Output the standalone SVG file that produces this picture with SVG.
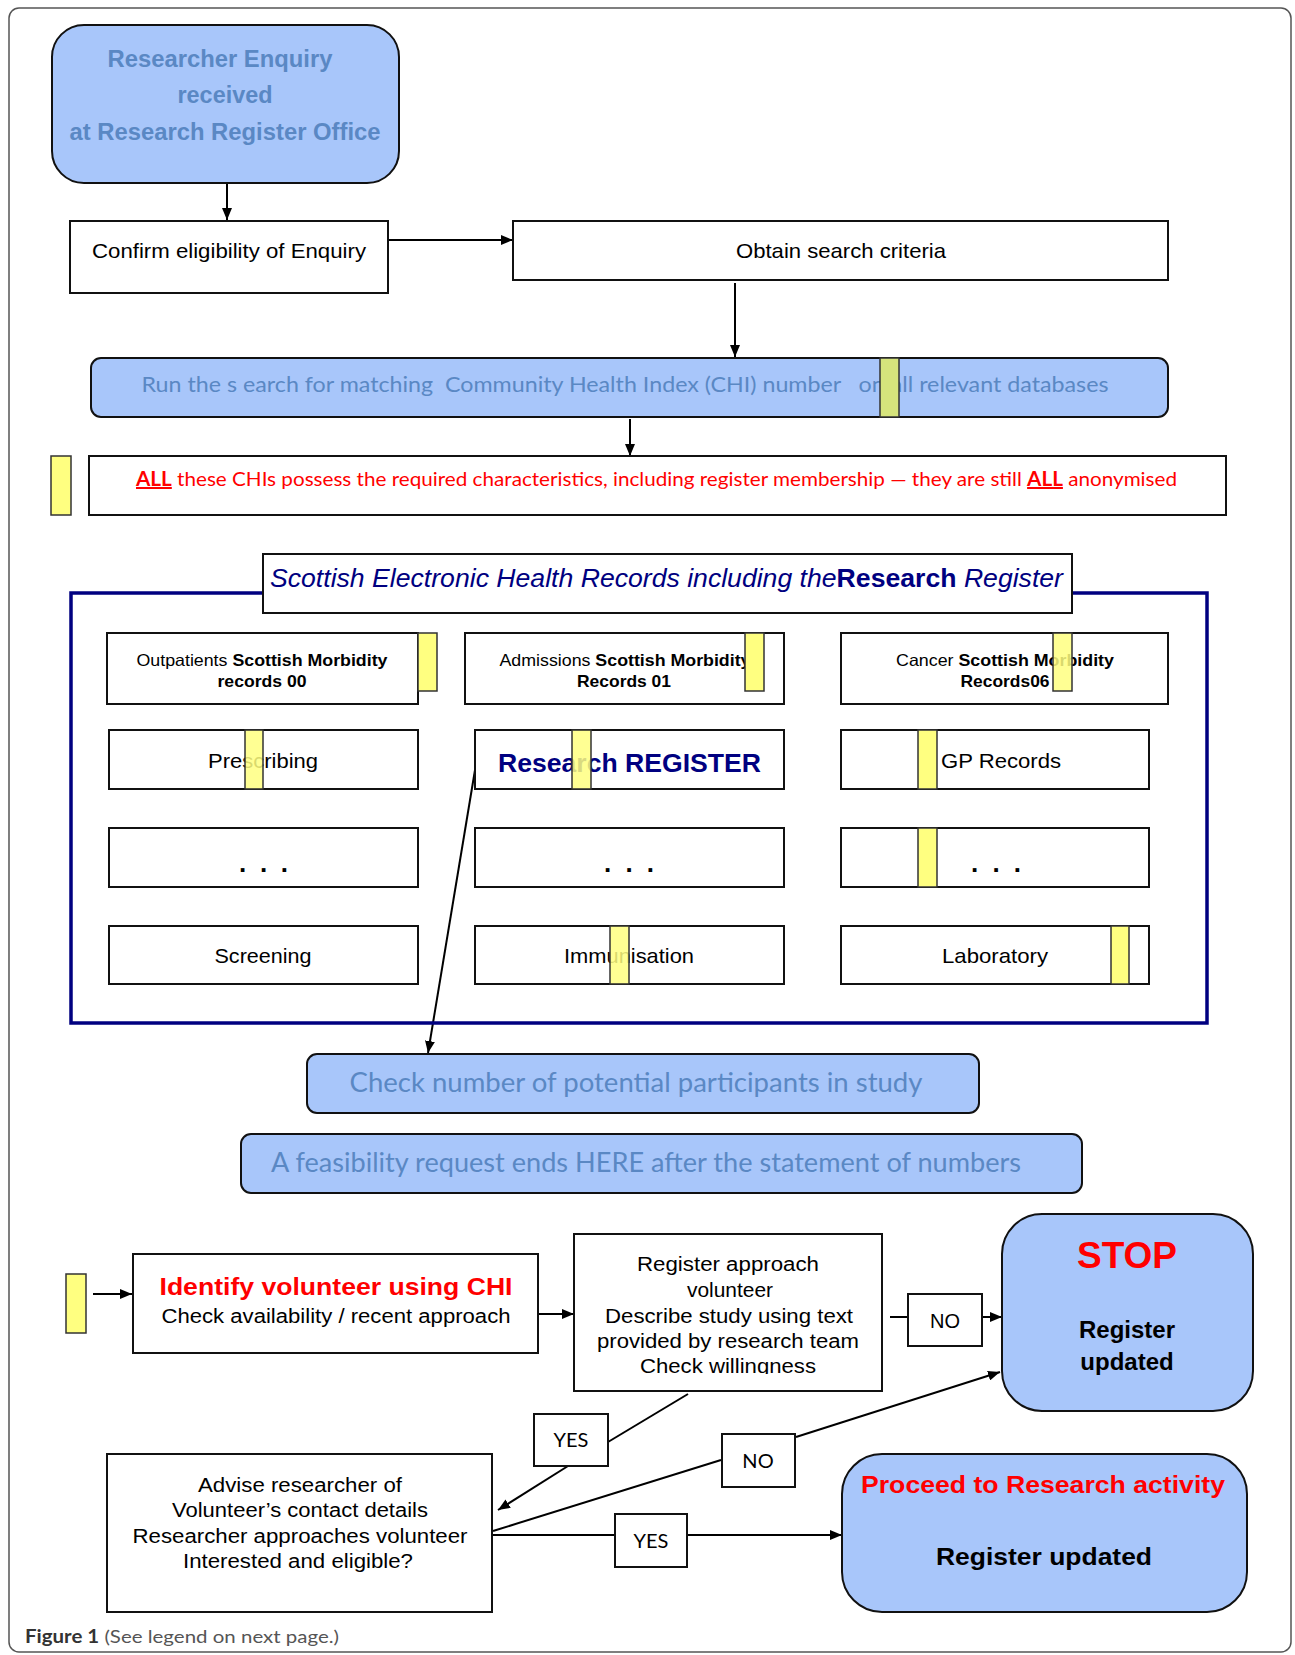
<svg xmlns="http://www.w3.org/2000/svg" width="1295" height="1655" viewBox="0 0 1295 1655">
<style>
.box{fill:#fff;stroke:#111;stroke-width:2}
.blue{fill:#a8c6fa;stroke:#111;stroke-width:2}
.yel{fill:#ffff80;stroke:#333;stroke-width:1.5}
.a{font-family:"Liberation Sans",Arial,sans-serif;fill:#000}
.c{font-family:Lato,"Open Sans",sans-serif}
.bt{fill:#5a88c4}
.b{font-weight:bold}
.navy{fill:#000080}
.red{fill:#ff0000}
.con{stroke:#000;stroke-width:2;fill:none}
.pre{white-space:pre}
</style>
<defs>
<marker id="ah" markerWidth="12" markerHeight="10" refX="12" refY="5" orient="auto" markerUnits="userSpaceOnUse">
<path d="M0,0 L12,5 L0,10 Z" fill="#000"/>
</marker>
<clipPath id="clipReg"><rect x="574" y="1234" width="308" height="140"/></clipPath>
</defs>
<rect x="9" y="8" width="1282" height="1644" rx="10" fill="#fff" stroke="#555" stroke-width="1.5"/>

<g id="connectors">
<line class="con" x1="227" y1="183" x2="227" y2="220" marker-end="url(#ah)"/>
<line class="con" x1="379" y1="240" x2="513" y2="240" marker-end="url(#ah)"/>
<line class="con" x1="735" y1="283" x2="735" y2="357" marker-end="url(#ah)"/>
<line class="con" x1="630" y1="419" x2="630" y2="456" marker-end="url(#ah)"/>
<line class="con" x1="475" y1="770" x2="428" y2="1053" marker-end="url(#ah)"/>
<line class="con" x1="93" y1="1294" x2="132" y2="1294" marker-end="url(#ah)"/>
<line class="con" x1="538" y1="1314" x2="574" y2="1314" marker-end="url(#ah)"/>
<line class="con" x1="890" y1="1317" x2="908" y2="1317"/>
<line class="con" x1="982" y1="1317" x2="1002" y2="1317" marker-end="url(#ah)"/>
<line class="con" x1="688" y1="1394" x2="608" y2="1442"/>
<line class="con" x1="568" y1="1466" x2="498" y2="1510" marker-end="url(#ah)"/>
<line class="con" x1="493" y1="1531" x2="721" y2="1460"/>
<line class="con" x1="796" y1="1437" x2="1000" y2="1372" marker-end="url(#ah)"/>
<line class="con" x1="493" y1="1535" x2="615" y2="1535"/>
<line class="con" x1="687" y1="1535" x2="842" y2="1535" marker-end="url(#ah)"/>
</g>

<g id="n-enquiry">
<rect class="blue" x="52" y="25" width="347" height="158" rx="32"/>
<text class="a b bt" font-size="23" text-anchor="middle" x="220" y="67" textLength="225" lengthAdjust="spacingAndGlyphs">Researcher Enquiry</text>
<text class="a b bt" font-size="23" text-anchor="middle" x="225" y="103" textLength="95" lengthAdjust="spacingAndGlyphs">received</text>
<text class="a b bt" font-size="23" text-anchor="middle" x="225" y="140" textLength="311" lengthAdjust="spacingAndGlyphs">at Research Register Office</text>
</g>

<g id="n-confirm">
<rect class="box" x="70" y="221" width="318" height="72"/>
<text class="a" font-size="21" text-anchor="middle" x="229" y="258" textLength="274" lengthAdjust="spacingAndGlyphs">Confirm eligibility of Enquiry</text>
</g>

<g id="n-obtain">
<rect class="box" x="513" y="221" width="655" height="59"/>
<text class="a" font-size="21" text-anchor="middle" x="841" y="258" textLength="210" lengthAdjust="spacingAndGlyphs">Obtain search criteria</text>
</g>

<g id="n-run">
<rect class="blue" x="91" y="358" width="1077" height="59" rx="10"/>
<text class="c bt pre" xml:space="preserve" font-size="22" text-anchor="middle" x="625" y="392" textLength="967" lengthAdjust="spacingAndGlyphs">Run the s earch for matching  Community Health Index (CHI) number   on all relevant databases</text>
<rect x="880" y="358" width="19" height="59" fill="#d6e47c" stroke="#333" stroke-width="1.5"/>
</g>

<g id="n-all">
<rect class="yel" x="51" y="456" width="20" height="59"/>
<rect class="box" x="89" y="456" width="1137" height="59"/>
<text class="c red" font-size="20" x="136" y="486" textLength="1041" lengthAdjust="spacingAndGlyphs"><tspan font-weight="bold" text-decoration="underline">ALL</tspan> these CHIs possess the required characteristics, including register membership — they are still <tspan font-weight="bold" text-decoration="underline">ALL</tspan> anonymised</text>
</g>

<g id="n-ehr">
<rect x="71" y="593" width="1136" height="430" fill="none" stroke="#000080" stroke-width="3.5"/>
<rect class="box" x="263" y="554" width="809" height="59"/>
<text class="a navy" font-size="26" x="270" y="587" textLength="793" lengthAdjust="spacingAndGlyphs"><tspan font-style="italic">Scottish Electronic Health Records including the</tspan><tspan font-weight="bold">Research</tspan><tspan font-style="italic"> Register</tspan></text>
</g>

<g id="n-outpatients">
<rect class="box" x="107" y="633" width="311" height="71"/>
<rect class="yel" x="418" y="633" width="19" height="58"/>
<text class="a" font-size="16.5" text-anchor="middle" x="262" y="666" textLength="251" lengthAdjust="spacingAndGlyphs">Outpatients <tspan font-weight="bold">Scottish Morbidity</tspan></text>
<text class="a b" font-size="16.5" text-anchor="middle" x="262" y="687" textLength="89" lengthAdjust="spacingAndGlyphs">records 00</text>
</g>

<g id="n-admissions">
<rect class="box" x="465" y="633" width="319" height="71"/>
<text class="a" font-size="16.5" text-anchor="middle" x="625" y="666" textLength="251" lengthAdjust="spacingAndGlyphs">Admissions <tspan font-weight="bold">Scottish Morbidity</tspan></text>
<text class="a b" font-size="16.5" text-anchor="middle" x="624" y="687" textLength="94" lengthAdjust="spacingAndGlyphs">Records 01</text>
<rect class="yel" x="745" y="633" width="19" height="58"/>
</g>

<g id="n-cancer">
<rect class="box" x="841" y="633" width="327" height="71"/>
<text class="a" font-size="16.5" text-anchor="middle" x="1005" y="666" textLength="218" lengthAdjust="spacingAndGlyphs">Cancer <tspan font-weight="bold">Scottish Morbidity</tspan></text>
<text class="a b" font-size="16.5" text-anchor="middle" x="1005" y="687" textLength="89" lengthAdjust="spacingAndGlyphs">Records06</text>
<rect x="1053" y="633" width="19" height="58" fill="#ffff80" fill-opacity="0.85" stroke="#333" stroke-width="1.5"/>
</g>

<g id="n-prescribing">
<rect class="box" x="109" y="730" width="309" height="59"/>
<text class="a" font-size="21" text-anchor="middle" x="263" y="768" textLength="110" lengthAdjust="spacingAndGlyphs">Prescribing</text>
<rect x="245" y="730" width="18" height="59" fill="#ffff80" fill-opacity="0.85" stroke="#333" stroke-width="1.5"/>
</g>

<g id="n-register">
<rect class="box" x="475" y="730" width="309" height="59"/>
<text class="a b navy" font-size="26" x="498" y="772" textLength="263" lengthAdjust="spacingAndGlyphs">Research REGISTER</text>
<rect x="572" y="730" width="19" height="59" fill="#ffff80" fill-opacity="0.85" stroke="#333" stroke-width="1.5"/>
</g>

<g id="n-gp">
<rect class="box" x="841" y="730" width="308" height="59"/>
<rect class="yel" x="918" y="730" width="19" height="59"/>
<text class="a" font-size="21" x="941" y="768" textLength="120" lengthAdjust="spacingAndGlyphs">GP Records</text>
</g>

<g id="n-dots1">
<rect class="box" x="109" y="828" width="309" height="59"/>
<text class="a b" font-size="26" x="239" y="872" textLength="49" lengthAdjust="spacing">. . .</text>
</g>

<g id="n-dots2">
<rect class="box" x="475" y="828" width="309" height="59"/>
<text class="a b" font-size="26" x="604" y="872" textLength="50" lengthAdjust="spacing">. . .</text>
</g>

<g id="n-dots3">
<rect class="box" x="841" y="828" width="308" height="59"/>
<rect class="yel" x="918" y="828" width="19" height="59"/>
<text class="a b" font-size="26" x="971" y="872" textLength="50" lengthAdjust="spacing">. . .</text>
</g>

<g id="n-screening">
<rect class="box" x="109" y="926" width="309" height="58"/>
<text class="a" font-size="21" text-anchor="middle" x="263" y="963" textLength="97" lengthAdjust="spacingAndGlyphs">Screening</text>
</g>

<g id="n-immunisation">
<rect class="box" x="475" y="926" width="309" height="58"/>
<text class="a" font-size="21" text-anchor="middle" x="629" y="963" textLength="130" lengthAdjust="spacingAndGlyphs">Immunisation</text>
<rect x="610" y="926" width="19" height="58" fill="#ffff80" fill-opacity="0.85" stroke="#333" stroke-width="1.5"/>
</g>

<g id="n-laboratory">
<rect class="box" x="841" y="926" width="308" height="58"/>
<text class="a" font-size="21" text-anchor="middle" x="995" y="963" textLength="106" lengthAdjust="spacingAndGlyphs">Laboratory</text>
<rect class="yel" x="1111" y="926" width="18" height="58"/>
</g>

<g id="n-check">
<rect class="blue" x="307" y="1054" width="672" height="59" rx="10"/>
<text class="c bt" font-size="26" text-anchor="middle" x="636" y="1092" textLength="573" lengthAdjust="spacingAndGlyphs">Check number of potential participants in study</text>
</g>

<g id="n-feasibility">
<rect class="blue" x="241" y="1134" width="841" height="59" rx="10"/>
<text class="c bt" font-size="26" text-anchor="middle" x="646" y="1172" textLength="750" lengthAdjust="spacingAndGlyphs">A feasibility request ends HERE after the statement of numbers</text>
</g>

<g id="n-marker">
<rect class="yel" x="66" y="1274" width="20" height="59"/>
</g>

<g id="n-identify">
<rect class="box" x="133" y="1254" width="405" height="99"/>
<text class="a b red" font-size="24" text-anchor="middle" x="336" y="1295" textLength="353" lengthAdjust="spacingAndGlyphs">Identify volunteer using CHI</text>
<text class="a" font-size="20" text-anchor="middle" x="336" y="1323" textLength="349" lengthAdjust="spacingAndGlyphs">Check availability / recent approach</text>
</g>

<g id="n-approach">
<rect class="box" x="574" y="1234" width="308" height="157"/>
<g clip-path="url(#clipReg)">
<text class="a" font-size="20" text-anchor="middle" x="728" y="1271" textLength="182" lengthAdjust="spacingAndGlyphs">Register approach</text>
<text class="a" font-size="20" text-anchor="middle" x="730" y="1297" textLength="86" lengthAdjust="spacingAndGlyphs">volunteer</text>
<text class="a" font-size="20" text-anchor="middle" x="729" y="1323" textLength="248" lengthAdjust="spacingAndGlyphs">Describe study using text</text>
<text class="a" font-size="20" text-anchor="middle" x="728" y="1348" textLength="262" lengthAdjust="spacingAndGlyphs">provided by research team</text>
<text class="a" font-size="20" text-anchor="middle" x="728" y="1373" textLength="176" lengthAdjust="spacingAndGlyphs">Check willingness</text>
</g>
</g>

<g id="n-no1">
<rect class="box" x="908" y="1294" width="74" height="52"/>
<text class="a" font-size="20" text-anchor="middle" x="945" y="1328">NO</text>
</g>

<g id="n-stop">
<rect class="blue" x="1002" y="1214" width="251" height="197" rx="40"/>
<text class="a b red" font-size="37" text-anchor="middle" x="1127" y="1268">STOP</text>
<text class="a b" font-size="24" text-anchor="middle" x="1127" y="1338">Register</text>
<text class="a b" font-size="24" text-anchor="middle" x="1127" y="1370">updated</text>
</g>

<g id="n-yes1">
<rect class="box" x="534" y="1414" width="74" height="52"/>
<text class="c" font-size="20" text-anchor="middle" x="571" y="1447">YES</text>
</g>

<g id="n-no2">
<rect class="box" x="722" y="1434" width="73" height="53"/>
<text class="c" font-size="20" text-anchor="middle" x="758" y="1468">NO</text>
</g>

<g id="n-advise">
<rect class="box" x="107" y="1454" width="385" height="158"/>
<text class="a" font-size="20" text-anchor="middle" x="300" y="1492" textLength="204" lengthAdjust="spacingAndGlyphs">Advise researcher of</text>
<text class="a" font-size="20" text-anchor="middle" x="300" y="1517" textLength="256" lengthAdjust="spacingAndGlyphs">Volunteer’s contact details</text>
<text class="a" font-size="20" text-anchor="middle" x="300" y="1543" textLength="335" lengthAdjust="spacingAndGlyphs">Researcher approaches volunteer</text>
<text class="a" font-size="20" text-anchor="middle" x="298" y="1568" textLength="230" lengthAdjust="spacingAndGlyphs">Interested and eligible?</text>
</g>

<g id="n-yes2">
<rect class="box" x="615" y="1514" width="72" height="53"/>
<text class="c" font-size="20" text-anchor="middle" x="651" y="1548">YES</text>
</g>

<g id="n-proceed">
<rect class="blue" x="842" y="1454" width="405" height="158" rx="40"/>
<text class="a b red" font-size="24" text-anchor="middle" x="1043" y="1493" textLength="364" lengthAdjust="spacingAndGlyphs">Proceed to Research activity</text>
<text class="a b" font-size="24" text-anchor="middle" x="1044" y="1565" textLength="216" lengthAdjust="spacingAndGlyphs">Register updated</text>
</g>

<text class="c" font-size="18" x="25" y="1643" fill="#555" textLength="314" lengthAdjust="spacingAndGlyphs"><tspan font-weight="bold" fill="#333">Figure 1</tspan> (See legend on next page.)</text>
</svg>
